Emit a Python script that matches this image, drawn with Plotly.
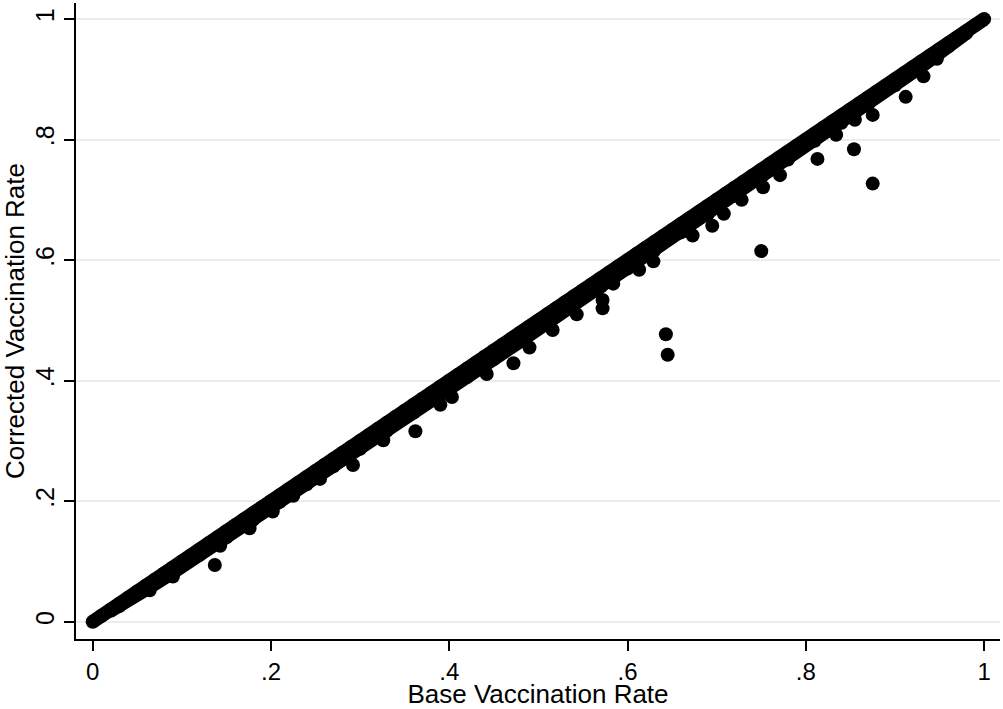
import plotly.graph_objects as go

# Points lying on the diagonal (base rate == corrected rate)
diag_x = [0.00, 0.01, 0.02, 0.03, 0.04, 0.05, 0.06, 0.07, 0.08, 0.09,
          0.10, 0.11, 0.12, 0.13, 0.14, 0.15, 0.16, 0.17, 0.18, 0.19,
          0.20, 0.21, 0.22, 0.23, 0.24, 0.25, 0.26, 0.27, 0.28, 0.29,
          0.30, 0.31, 0.32, 0.33, 0.34, 0.35, 0.36, 0.37, 0.38, 0.39,
          0.40, 0.41, 0.42, 0.43, 0.44, 0.45, 0.46, 0.47, 0.48, 0.49,
          0.50, 0.51, 0.52, 0.53, 0.54, 0.55, 0.56, 0.57, 0.58, 0.59,
          0.60, 0.61, 0.62, 0.63, 0.64, 0.65, 0.66, 0.67, 0.68, 0.69,
          0.70, 0.71, 0.72, 0.73, 0.74, 0.75, 0.76, 0.77, 0.78, 0.79,
          0.80, 0.81, 0.82, 0.83, 0.84, 0.85, 0.86, 0.87, 0.88, 0.89,
          0.90, 0.91, 0.92, 0.93, 0.94, 0.95, 0.96, 0.97, 0.98, 0.99, 1.00]
diag_y = [0.00, 0.01, 0.02, 0.03, 0.04, 0.05, 0.06, 0.07, 0.08, 0.09,
          0.10, 0.11, 0.12, 0.13, 0.14, 0.15, 0.16, 0.17, 0.18, 0.19,
          0.20, 0.21, 0.22, 0.23, 0.24, 0.25, 0.26, 0.27, 0.28, 0.29,
          0.30, 0.31, 0.32, 0.33, 0.34, 0.35, 0.36, 0.37, 0.38, 0.39,
          0.40, 0.41, 0.42, 0.43, 0.44, 0.45, 0.46, 0.47, 0.48, 0.49,
          0.50, 0.51, 0.52, 0.53, 0.54, 0.55, 0.56, 0.57, 0.58, 0.59,
          0.60, 0.61, 0.62, 0.63, 0.64, 0.65, 0.66, 0.67, 0.68, 0.69,
          0.70, 0.71, 0.72, 0.73, 0.74, 0.75, 0.76, 0.77, 0.78, 0.79,
          0.80, 0.81, 0.82, 0.83, 0.84, 0.85, 0.86, 0.87, 0.88, 0.89,
          0.90, 0.91, 0.92, 0.93, 0.94, 0.95, 0.96, 0.97, 0.98, 0.99, 1.00]

# Points slightly below the diagonal (dense band)
band_x = [0.02, 0.03, 0.06, 0.09, 0.12, 0.15, 0.18, 0.21, 0.24, 0.27, 0.30, 0.33,
          0.36, 0.39, 0.42, 0.45, 0.48, 0.51, 0.54, 0.57, 0.60, 0.63, 0.66,
          0.69, 0.72, 0.75, 0.78, 0.81, 0.84, 0.87, 0.90, 0.93, 0.96, 0.98]
band_y = [0.018, 0.026, 0.054, 0.082, 0.111, 0.140, 0.169, 0.199, 0.228, 0.258, 0.287, 0.317,
          0.347, 0.377, 0.406, 0.436, 0.466, 0.496, 0.526, 0.556, 0.586, 0.616, 0.646,
          0.676, 0.707, 0.737, 0.767, 0.798, 0.828, 0.859, 0.890, 0.922, 0.955, 0.977]

# Scattered points further below the diagonal
low_x = [0.064, 0.090, 0.137, 0.143, 0.176, 0.202, 0.225, 0.255, 0.292, 0.326,
         0.362, 0.390, 0.403, 0.442, 0.472, 0.490, 0.516, 0.543, 0.572, 0.572,
         0.584, 0.613, 0.629, 0.643, 0.645, 0.673, 0.695, 0.708, 0.728, 0.750,
         0.752, 0.771, 0.813, 0.834, 0.854, 0.855, 0.875, 0.875, 0.912, 0.932, 0.947]
low_y = [0.052, 0.075, 0.094, 0.126, 0.155, 0.183, 0.209, 0.237, 0.260, 0.301,
         0.316, 0.360, 0.373, 0.411, 0.429, 0.455, 0.484, 0.510, 0.534, 0.520,
         0.561, 0.584, 0.598, 0.477, 0.443, 0.641, 0.657, 0.677, 0.700, 0.615,
         0.721, 0.741, 0.768, 0.808, 0.784, 0.833, 0.727, 0.841, 0.871, 0.905, 0.934]

tick_vals = [0, 0.2, 0.4, 0.6, 0.8, 1]
tick_text = ["0", ".2", ".4", ".6", ".8", "1"]

marker = dict(color="black", size=14, line=dict(width=0))
fig = go.Figure()
fig.add_trace(go.Scatter(x=diag_x, y=diag_y, mode="lines+markers", marker=marker,
                         line=dict(color="black", width=14),
                         showlegend=False, hoverinfo="skip"))
fig.add_trace(go.Scatter(x=band_x, y=band_y, mode="lines+markers", marker=marker,
                         line=dict(color="black", width=14),
                         showlegend=False, hoverinfo="skip"))
fig.add_trace(go.Scatter(x=low_x, y=low_y, mode="markers", marker=marker,
                         showlegend=False, hoverinfo="skip"))

family = "Liberation Sans, Arial, sans-serif"
xtick_font = dict(family=family, size=24, color="black")
ytick_font = dict(family=family, size=25, color="black")
title_font = dict(family=family, size=26, color="black")
fig.update_layout(
    width=1003, height=709,
    margin=dict(l=76, r=3, t=3, b=70),
    paper_bgcolor="white", plot_bgcolor="white",
    font=xtick_font,
    xaxis=dict(range=[-0.0187, 1.0178], tickvals=tick_vals, ticktext=tick_text,
               automargin=False,
               showgrid=False, zeroline=False, showline=True, linecolor="black",
               linewidth=1.5, ticks="outside", ticklen=10, tickwidth=1.5,
               tickcolor="black", tickfont=xtick_font,
               title=dict(text="Base Vaccination Rate", font=title_font, standoff=2)),
    yaxis=dict(range=[-0.0287, 1.0267], tickvals=tick_vals, ticktext=tick_text,
               automargin=False,
               showgrid=True, gridcolor="#e6eff0", gridwidth=1.5,
               zeroline=False, showline=True, linecolor="black",
               linewidth=1.5, ticks="outside", ticklen=10, tickwidth=1.5,
               tickcolor="black", tickangle=-90, tickfont=ytick_font,
               title=dict(text="Corrected Vaccination Rate", font=title_font, standoff=2)),
)
fig.write_html("out.html", config={"displayModeBar": False},
               post_script="document.body.style.margin='0';")
